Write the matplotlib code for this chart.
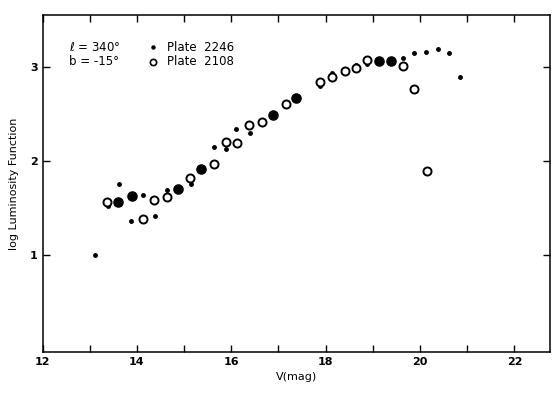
import matplotlib
matplotlib.use("Agg")
import matplotlib.pyplot as plt

# Plate 2246 (small dots)
v_2246 = [13.11, 13.38, 13.63, 13.87, 14.12, 14.38, 14.63, 15.14, 15.63, 15.88, 16.11,
          16.39, 17.87, 18.13, 18.65, 18.87, 19.64, 19.87, 20.13, 20.37, 20.62, 20.84]
lf_2246 = [1.00, 1.52, 1.76, 1.36, 1.64, 1.42, 1.69, 1.76, 2.15, 2.13, 2.34,
           2.30, 2.80, 2.93, 3.02, 3.025, 3.09, 3.15, 3.16, 3.19, 3.15, 2.89]

# Plate 2108 (open circles)
v_2108 = [13.36, 14.13, 14.37, 14.63, 15.12, 15.64, 15.88, 16.13, 16.38, 16.65,
          17.15, 17.87, 18.13, 18.40, 18.64, 18.88, 19.64, 19.88, 20.15]
lf_2108 = [1.565, 1.38, 1.58, 1.62, 1.82, 1.97, 2.20, 2.195, 2.38, 2.41,
           2.60, 2.835, 2.89, 2.96, 2.99, 3.07, 3.005, 2.76, 1.89]

# Coincident points of both plates (filled circles)
v_both = [13.60, 13.90, 14.88, 15.35, 16.89, 17.37, 19.14, 19.38]
lf_both = [1.56, 1.625, 1.70, 1.915, 2.49, 2.67, 3.06, 3.06]

xticks = [12, 14, 16, 18, 20, 22]
yticks = [1, 2, 3]

fig = plt.figure(figsize=(5.6, 3.99), dpi=100)
ax = fig.add_axes([0.0759, 0.1178, 0.906, 0.8446])

ax.plot(v_2246, lf_2246, 'o', color='black', markersize=2.5, linestyle='none')
ax.plot(v_2108, lf_2108, 'o', markerfacecolor='white', markeredgecolor='black',
        markeredgewidth=1.4, markersize=5.8, linestyle='none')
ax.plot(v_both, lf_both, 'o', color='black', markersize=6.6, linestyle='none')

ax.set_xlim(12, 22.75)
ax.set_ylim(-0.03, 3.55)
ax.set_xticks(xticks)
ax.set_xticks(range(12, 23), minor=True)
ax.set_yticks(yticks)
ax.tick_params(which='both', direction='in', top=True, right=True, labelsize=8)
ax.tick_params(which='major', length=5, width=1)
ax.tick_params(which='minor', length=5, width=1)
for lbl in ax.get_xticklabels() + ax.get_yticklabels():
    lbl.set_fontweight('semibold')
for s in ax.spines.values():
    s.set_linewidth(1.1)

ax.set_xlabel('V(mag)', fontsize=8)
ax.set_ylabel('log Luminosity Function', fontsize=8, labelpad=8)

ax.text(0.052, 0.905, r'$\ell$ = 340°', transform=ax.transAxes, fontsize=8.5, va='center')
ax.text(0.052, 0.862, 'b = -15°', transform=ax.transAxes, fontsize=8.5, va='center')
ax.plot([0.2175], [0.905], 'o', color='black', markersize=2.2, transform=ax.transAxes)
ax.plot([0.2175], [0.862], 'o', markerfacecolor='white', markeredgecolor='black',
        markeredgewidth=1.2, markersize=4.5, transform=ax.transAxes)
ax.text(0.245, 0.905, 'Plate  2246', transform=ax.transAxes, fontsize=8.5, va='center')
ax.text(0.245, 0.862, 'Plate  2108', transform=ax.transAxes, fontsize=8.5, va='center')

fig.savefig('out.png', dpi=100)
